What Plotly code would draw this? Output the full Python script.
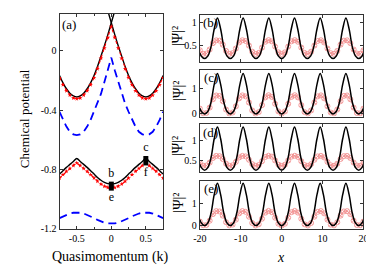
import plotly.graph_objects as go

# ---------------- panel (a): chemical potential vs quasimomentum ----------------
k = [-0.75, -0.7, -0.65, -0.6, -0.55, -0.5, -0.45, -0.4, -0.35, -0.3, -0.25, -0.2, -0.15, -0.1, -0.05, 0,
     0.05, 0.1, 0.15, 0.2, 0.25, 0.3, 0.35, 0.4, 0.45, 0.5, 0.55, 0.6, 0.65, 0.7, 0.75]

k_up_left = [-0.75, -0.7, -0.65, -0.6, -0.55, -0.5, -0.45, -0.4, -0.35, -0.3, -0.25, -0.2, -0.15, -0.1, -0.05, 0, 0.05]
mu_up_black_left = [-0.165, -0.215, -0.255, -0.285, -0.303, -0.31, -0.303, -0.285, -0.255, -0.215, -0.165,
                    -0.105, -0.035, 0.035, 0.11, 0.19, 0.27]
k_up_right = [-0.05, 0, 0.05, 0.1, 0.15, 0.2, 0.25, 0.3, 0.35, 0.4, 0.45, 0.5, 0.55, 0.6, 0.65, 0.7, 0.75]
mu_up_black_right = [0.27, 0.19, 0.11, 0.035, -0.035, -0.105, -0.165, -0.215, -0.255, -0.285, -0.303, -0.31,
                     -0.303, -0.285, -0.255, -0.215, -0.165]

mu_up_red = [-0.18, -0.228, -0.268, -0.298, -0.317, -0.323, -0.317, -0.298, -0.268, -0.228, -0.18, -0.12, -0.05,
             0.02, 0.09, 0.165, 0.09, 0.02, -0.05, -0.12, -0.18, -0.228, -0.268, -0.298, -0.317, -0.323, -0.317,
             -0.298, -0.268, -0.228, -0.18]
mu_up_blue = [-0.41, -0.465, -0.51, -0.545, -0.562, -0.567, -0.562, -0.545, -0.51, -0.465, -0.41, -0.355, -0.29,
              -0.21, -0.13, -0.045, -0.13, -0.21, -0.29, -0.355, -0.41, -0.465, -0.51, -0.545, -0.562, -0.567,
              -0.562, -0.545, -0.51, -0.465, -0.41]
mu_lo_black = [-0.83, -0.807, -0.785, -0.765, -0.745, -0.725, -0.745, -0.765, -0.785, -0.807, -0.83, -0.853, -0.872,
               -0.886, -0.895, -0.898, -0.895, -0.886, -0.872, -0.853, -0.83, -0.807, -0.785, -0.765, -0.745,
               -0.725, -0.745, -0.765, -0.785, -0.807, -0.83]
mu_lo_red = [-0.857, -0.834, -0.812, -0.792, -0.772, -0.755, -0.772, -0.792, -0.812, -0.834, -0.857, -0.879, -0.898,
             -0.912, -0.921, -0.925, -0.921, -0.912, -0.898, -0.879, -0.857, -0.834, -0.812, -0.792, -0.772,
             -0.755, -0.772, -0.792, -0.812, -0.834, -0.857]
mu_lo_blue = [-1.127, -1.115, -1.105, -1.096, -1.091, -1.089, -1.091, -1.096, -1.105, -1.115, -1.127, -1.139,
              -1.149, -1.158, -1.163, -1.165, -1.163, -1.158, -1.149, -1.139, -1.127, -1.115, -1.105, -1.096,
              -1.091, -1.089, -1.091, -1.096, -1.105, -1.115, -1.127]

state_k = [0, 0.5, 0, 0.5]
state_mu = [-0.898, -0.725, -0.925, -0.755]
state_lbl = ["b", "c", "e", "f"]

a_xticks = [-0.5, 0, 0.5]
a_xticktext = ["-0.5", "0", "0.5"]
a_yticks = [0, -0.4, -0.8, -1.2]
a_yticktext = ["0", "-0.4", "-0.8", "-1.2"]

# ---------------- panels (b)-(e): density profiles ----------------
xb = [-20, -19.635, -18.850, -18.064, -17.279, -16.493, -15.708, -14.923, -14.137, -13.352, -12.566, -11.781,
      -10.996, -10.210, -9.425, -8.639, -7.854, -7.069, -6.283, -5.498, -4.712, -3.927, -3.142, -2.356, -1.571,
      -0.785, 0, 0.785, 1.571, 2.356, 3.142, 3.927, 4.712, 5.498, 6.283, 7.069, 7.854, 8.639, 9.425, 10.210,
      10.996, 11.781, 12.566, 13.352, 14.137, 14.923, 15.708, 16.493, 17.279, 18.064, 18.850, 19.635, 20]

xr = [-20, -19.2, -18.4, -17.6, -16.8, -16, -15.2, -14.4, -13.6, -12.8, -12, -11.2, -10.4, -9.6, -8.8, -8, -7.2,
      -6.4, -5.6, -4.8, -4, -3.2, -2.4, -1.6, -0.8, 0, 0.8, 1.6, 2.4, 3.2, 4, 4.8, 5.6, 6.4, 7.2, 8, 8.8, 9.6,
      10.4, 11.2, 12, 12.8, 13.6, 14.4, 15.2, 16, 16.8, 17.6, 18.4, 19.2, 20]

dens_b_black = [0.326,
                0.254, 0.20, 0.254, 0.461, 0.857, 1.10, 0.857, 0.461,
                0.254, 0.20, 0.254, 0.461, 0.857, 1.10, 0.857, 0.461,
                0.254, 0.20, 0.254, 0.461, 0.857, 1.10, 0.857, 0.461,
                0.254, 0.20, 0.254, 0.461, 0.857, 1.10, 0.857, 0.461,
                0.254, 0.20, 0.254, 0.461, 0.857, 1.10, 0.857, 0.461,
                0.254, 0.20, 0.254, 0.461, 0.857, 1.10, 0.857, 0.461,
                0.254, 0.20, 0.254,
                0.326]
dens_c_black = [0.224,
                0.096, 0.0, 0.096, 0.464, 1.168, 1.60, 1.168, 0.464,
                0.096, 0.0, 0.096, 0.464, 1.168, 1.60, 1.168, 0.464,
                0.096, 0.0, 0.096, 0.464, 1.168, 1.60, 1.168, 0.464,
                0.096, 0.0, 0.096, 0.464, 1.168, 1.60, 1.168, 0.464,
                0.096, 0.0, 0.096, 0.464, 1.168, 1.60, 1.168, 0.464,
                0.096, 0.0, 0.096, 0.464, 1.168, 1.60, 1.168, 0.464,
                0.096, 0.0, 0.096,
                0.224]
dens_d_black = [0.404,
                0.316, 0.25, 0.316, 0.569, 1.053, 1.35, 1.053, 0.569,
                0.316, 0.25, 0.316, 0.569, 1.053, 1.35, 1.053, 0.569,
                0.316, 0.25, 0.316, 0.569, 1.053, 1.35, 1.053, 0.569,
                0.316, 0.25, 0.316, 0.569, 1.053, 1.35, 1.053, 0.569,
                0.316, 0.25, 0.316, 0.569, 1.053, 1.35, 1.053, 0.569,
                0.316, 0.25, 0.316, 0.569, 1.053, 1.35, 1.053, 0.569,
                0.316, 0.25, 0.316,
                0.404]
dens_e_black = [0.266,
                0.114, 0.0, 0.114, 0.551, 1.387, 1.9, 1.387, 0.551,
                0.114, 0.0, 0.114, 0.551, 1.387, 1.9, 1.387, 0.551,
                0.114, 0.0, 0.114, 0.551, 1.387, 1.9, 1.387, 0.551,
                0.114, 0.0, 0.114, 0.551, 1.387, 1.9, 1.387, 0.551,
                0.114, 0.0, 0.114, 0.551, 1.387, 1.9, 1.387, 0.551,
                0.114, 0.0, 0.114, 0.551, 1.387, 1.9, 1.387, 0.551,
                0.114, 0.0, 0.114,
                0.266]

dens_b_red = [0.385, 0.307, 0.312, 0.402, 0.542, 0.605, 0.598, 0.509, 0.370, 0.304, 0.320, 0.424, 0.557, 0.607,
              0.590, 0.488, 0.354, 0.302, 0.327, 0.444, 0.573, 0.61, 0.582, 0.466, 0.339, 0.30,
              0.339, 0.466, 0.582, 0.61, 0.573, 0.444, 0.327, 0.302, 0.354, 0.488, 0.590, 0.607, 0.557, 0.424,
              0.320, 0.304, 0.370, 0.509, 0.598, 0.605, 0.542, 0.402, 0.312, 0.307, 0.385]
dens_c_red = [0.211, 0.026, 0.039, 0.251, 0.579, 0.729, 0.711, 0.503, 0.174, 0.020, 0.057, 0.302, 0.616, 0.733,
              0.693, 0.452, 0.138, 0.015, 0.074, 0.349, 0.652, 0.74, 0.674, 0.401, 0.101, 0.01,
              0.101, 0.401, 0.674, 0.74, 0.652, 0.349, 0.074, 0.015, 0.138, 0.452, 0.693, 0.733, 0.616, 0.302,
              0.057, 0.020, 0.174, 0.503, 0.711, 0.729, 0.579, 0.251, 0.039, 0.026, 0.211]
dens_d_red = [0.432, 0.366, 0.370, 0.446, 0.563, 0.616, 0.610, 0.536, 0.419, 0.364, 0.377, 0.464, 0.576, 0.617,
              0.603, 0.517, 0.406, 0.362, 0.383, 0.481, 0.589, 0.62, 0.597, 0.499, 0.393, 0.36,
              0.393, 0.499, 0.597, 0.62, 0.589, 0.481, 0.383, 0.362, 0.406, 0.517, 0.603, 0.617, 0.576, 0.464,
              0.377, 0.364, 0.419, 0.536, 0.610, 0.616, 0.563, 0.446, 0.370, 0.366, 0.432]
dens_e_red = [0.182, 0.015, 0.026, 0.218, 0.515, 0.650, 0.634, 0.446, 0.149, 0.009, 0.043, 0.264, 0.548, 0.653,
              0.617, 0.399, 0.116, 0.005, 0.058, 0.307, 0.581, 0.66, 0.601, 0.353, 0.083, 0.0,
              0.083, 0.353, 0.601, 0.66, 0.581, 0.307, 0.058, 0.005, 0.116, 0.399, 0.617, 0.653, 0.548, 0.264,
              0.043, 0.009, 0.149, 0.446, 0.634, 0.650, 0.515, 0.218, 0.026, 0.015, 0.182]

x_ticks = [-20, -10, 0, 10, 20]
x_ticktext = ["-20", "-10", "0", "10", "20"]

panel_names = ["(b)", "(c)", "(d)", "(e)"]
black_sets = [dens_b_black, dens_c_black, dens_d_black, dens_e_black]
red_sets = [dens_b_red, dens_c_red, dens_d_red, dens_e_red]
y_ranges = [[0.13, 1.17], [-0.1, 1.75], [0.2, 1.42], [-0.15, 2.0]]
y_tickvals = [[0.5, 1], [0, 1], [0.5, 1], [0, 1]]
y_ticktexts = [["0.5", "1"], ["0", "1"], ["0.5", "1"], ["0", "1"]]

# ---------------- layout helpers (pixels -> paper) ----------------
W, H = 374, 267
def px(x):
    return x / W
def py(y):
    return 1 - y / H

FONT = "Liberation Serif"
BLACK = "#000000"
RED = "#ff0000"
BLUE = "#0000ff"
PINK = "#f29292"
AXC = "#333333"

fig = go.Figure()

# panel (a) traces
fig.add_trace(go.Scatter(x=k, y=mu_up_blue, mode="lines", line=dict(color=BLUE, width=1.8, dash="8px,5px"),
                         xaxis="x", yaxis="y"))
fig.add_trace(go.Scatter(x=k, y=mu_lo_blue, mode="lines", line=dict(color=BLUE, width=1.8, dash="8px,5px"),
                         xaxis="x", yaxis="y"))
fig.add_trace(go.Scatter(x=k_up_left, y=mu_up_black_left, mode="lines", line=dict(color=BLACK, width=1.4, shape="spline"),
                         xaxis="x", yaxis="y"))
fig.add_trace(go.Scatter(x=k_up_right, y=mu_up_black_right, mode="lines", line=dict(color=BLACK, width=1.4, shape="spline"),
                         xaxis="x", yaxis="y"))
fig.add_trace(go.Scatter(x=k, y=mu_lo_black, mode="lines", line=dict(color=BLACK, width=1.4, shape="spline"),
                         xaxis="x", yaxis="y"))
fig.add_trace(go.Scatter(x=k, y=mu_up_red, mode="lines+markers", line=dict(color=RED, width=1.2, dash="dot"),
                         marker=dict(symbol="star", size=3.5, color=RED), xaxis="x", yaxis="y"))
fig.add_trace(go.Scatter(x=k, y=mu_lo_red, mode="lines+markers", line=dict(color=RED, width=1.2, dash="dot"),
                         marker=dict(symbol="star", size=3.5, color=RED), xaxis="x", yaxis="y"))
fig.add_trace(go.Scatter(x=state_k, y=state_mu, mode="markers+text", text=state_lbl,
                         textposition=["top center", "top center", "bottom center", "bottom center"],
                         textfont=dict(family=FONT, size=12, color=BLACK),
                         marker=dict(symbol="square", size=5, color=BLACK), xaxis="x", yaxis="y",
                         cliponaxis=False))

# panels (b)-(e)
for i in range(4):
    xa = "x%d" % (i + 2)
    ya = "y%d" % (i + 2)
    fig.add_trace(go.Scatter(x=xr, y=red_sets[i], mode="lines+markers",
                             line=dict(color=PINK, width=0.8),
                             marker=dict(symbol="circle-x-open", size=5, color=PINK, line=dict(width=0.9, color=PINK)),
                             xaxis=xa, yaxis=ya))
    fig.add_trace(go.Scatter(x=xb, y=black_sets[i], mode="lines",
                             line=dict(color=BLACK, width=1.5, shape="spline", smoothing=1.0),
                             xaxis=xa, yaxis=ya))

axis_common = dict(showline=True, linecolor=AXC, linewidth=1, mirror="ticks", ticks="inside", ticklen=3,
                   tickcolor=AXC, showgrid=False, zeroline=False,
                   tickfont=dict(family=FONT, size=10, color=BLACK))

layout = dict(
    width=W, height=H, margin=dict(l=0, r=0, t=0, b=0), showlegend=False,
    paper_bgcolor="white", plot_bgcolor="white",
    font=dict(family=FONT, size=10, color=BLACK),
    xaxis=dict(domain=[px(46), px(153)], range=[-0.75, 0.75], tickvals=a_xticks, ticktext=a_xticktext,
               anchor="y", minor=dict(tickvals=[-0.25, 0.25], ticks="inside", ticklen=2, tickcolor=AXC),
               **axis_common),
    yaxis=dict(domain=[py(226), py(6)], range=[-1.2, 0.25], tickvals=a_yticks, ticktext=a_yticktext,
               anchor="x", **axis_common),
)

tops = [7, 63, 119, 177]
bots = [55, 111, 168, 226]
for i in range(4):
    layout["xaxis%d" % (i + 2)] = dict(domain=[px(191), px(360)], range=[-20, 20], tickvals=x_ticks,
                                       ticktext=x_ticktext, showticklabels=(i == 3), anchor="y%d" % (i + 2),
                                       **axis_common)
    layout["yaxis%d" % (i + 2)] = dict(domain=[py(bots[i]), py(tops[i])], range=y_ranges[i],
                                       tickvals=y_tickvals[i], ticktext=y_ticktexts[i], anchor="x%d" % (i + 2),
                                       **axis_common)

ann = []
ann.append(dict(text="Chemical potential", x=px(10), y=py(113), textangle=-90, font=dict(size=13)))
ann.append(dict(text="Quasimomentum (k)", x=px(99), y=py(255), font=dict(size=14)))
ann.append(dict(text="<i>x</i>", x=px(275), y=py(255), font=dict(size=14)))
ann.append(dict(text="(a)", x=px(56), y=py(17), font=dict(size=13)))
for i in range(4):
    ann.append(dict(text="|Ψ|²", x=px(168), y=py((tops[i] + bots[i]) / 2 - 2), textangle=-90,
                    font=dict(size=14)))
    ann.append(dict(text=panel_names[i], x=px(202), y=py(tops[i] + 8), font=dict(size=13)))
for a in ann:
    a.update(xref="paper", yref="paper", showarrow=False, xanchor="center", yanchor="middle")
    a["font"].update(family=FONT, color=BLACK)
layout["annotations"] = ann

fig.update_layout(**layout)
fig.write_html("out.html")
